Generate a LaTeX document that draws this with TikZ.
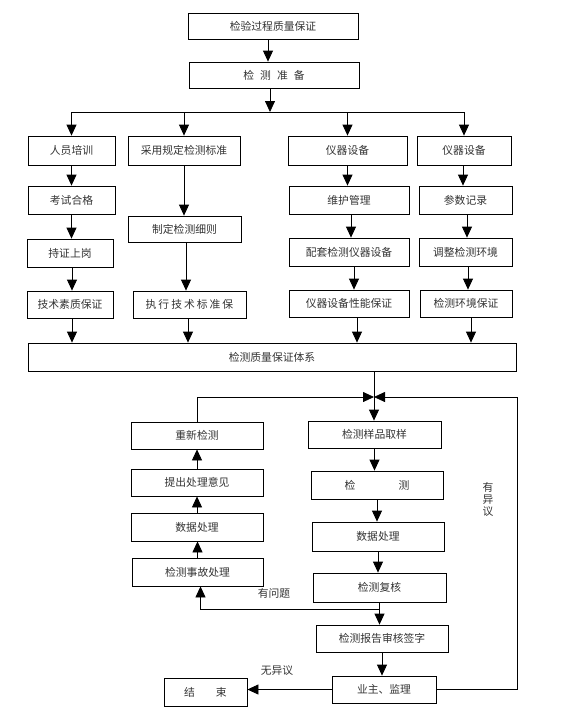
\documentclass[tikz,border=0pt]{standalone}
\usepackage{fontspec}
\setmainfont{Noto Sans CJK SC}
\usetikzlibrary{arrows.meta}

\tikzset{
  caixa/.style n args={2}{draw=black, line width=0.8pt, inner sep=0pt,
    text=black!80, minimum width=#1, minimum height=#2},
  rotulo/.style={text=black!80, inner sep=0pt, align=center},
}

\begin{document}
\begin{tikzpicture}[x=1pt, y=-1pt, >={Triangle[length=11pt,width=10pt]},
    line width=0.8pt, font=\fontsize{10.8}{12}\selectfont]
  \useasboundingbox (0,0) rectangle (575,716);

  % topo
  \node[caixa={170}{26}] (topo) at (273,26) {检验过程质量保证};
  \node[caixa={170}{26}] (prep) at (274,75) {检\hspace{6pt}测\hspace{6pt}准\hspace{6pt}备};
  \coordinate (ramo) at (270,112);

  % primeira linha
  \node[caixa={87}{29}] (pessoal) at (71.5,150.5) {人员培训};
  \node[caixa={112}{29}] (norma) at (184,150.5) {采用规定检测标准};
  \node[caixa={119}{29}] (equipA) at (347.5,150.5) {仪器设备};
  \node[caixa={94}{29}] (equipB) at (464,150.5) {仪器设备};

  % colunas
  \node[caixa={87}{28}] (exame) at (71.5,200) {考试合格};
  \node[caixa={86}{28}] (certif) at (70,253) {持证上岗};
  \node[caixa={86}{27}] (tecnica) at (70,304.5) {技术素质保证};
  \node[caixa={113}{26}] (regras) at (184.5,229) {制定检测细则};
  \node[caixa={113}{27}] (execucao) at (189.5,304.5)
    {执\hspace{2pt}行\hspace{2pt}技\hspace{2pt}术\hspace{2pt}标\hspace{2pt}准\hspace{2pt}保};
  \node[caixa={120}{28}] (manut) at (349,200) {维护管理};
  \node[caixa={120}{28}] (conjunto) at (349,252) {配套检测仪器设备};
  \node[caixa={120}{27}] (desemp) at (349,303.5) {仪器设备性能保证};
  \node[caixa={93}{28}] (param) at (465.5,200) {参数记录};
  \node[caixa={93}{28}] (ajuste) at (465.5,252) {调整检测环境};
  \node[caixa={92}{27}] (ambiente) at (466,303.5) {检测环境保证};
  \node[caixa={488}{28}] (sistema) at (272,357) {检测质量保证体系};

  % fluxo de baixo
  \node[caixa={132}{27}] (reteste) at (197,435.5) {重新检测};
  \node[caixa={132}{27}] (proposta) at (197,482.5) {提出处理意见};
  \node[caixa={132}{28}] (dados1) at (197,527) {数据处理};
  \node[caixa={131}{28}] (acidente) at (197.5,572) {检测事故处理};
  \node[caixa={133}{27}] (amostra) at (374.5,434.5) {检测样品取样};
  \node[caixa={132}{28}] (ensaio) at (377,485) {检\hspace{43pt}测};
  \node[caixa={132}{29}] (dados2) at (378,536.5) {数据处理};
  \node[caixa={133}{29}] (revisao) at (379.5,587.5) {检测复核};
  \node[caixa={132}{27}] (relatorio) at (382,638.5) {检测报告审核签字};
  \node[caixa={104}{27}] (cliente) at (384,689.5) {业主、监理};
  \node[caixa={83}{28}] (fim) at (205.5,692) {结\hspace{21pt}束};

  \node[rotulo] (problema) at (274,593) {有问题};
  \node[rotulo] (semobj) at (277,671) {无异议};
  \node[rotulo] (comobj) at (488,499) {有\\异\\议};

  \coordinate (juncao) at (374,397);
  \coordinate (retorno) at (517,397);
  \coordinate (desvio) at (380,609);

  % setas de cima
  \draw[->] ([xshift=-5]topo.south) -- ([xshift=-5]topo.south |- prep.north);
  \draw[->] (prep.south -| ramo) -- (ramo);
  \draw (pessoal.north |- ramo) -- (equipB.north |- ramo);
  \foreach \n in {pessoal,norma,equipA,equipB}
    \draw[->] (\n.north |- ramo) -- (\n.north);

  \foreach \a/\b/\s in {pessoal/exame/0, exame/certif/0, certif/tecnica/2,
      norma/regras/0, regras/execucao/1.5, equipA/manut/0, manut/conjunto/2,
      conjunto/desemp/5, equipB/param/-1, param/ajuste/1.5, ajuste/ambiente/2.5}
    \draw[->] ([xshift=\s]\a.south) -- ([xshift=\s]\a.south |- \b.north);

  \foreach \n/\s in {tecnica/2, execucao/-1.5, desemp/8, ambiente/5}
    \draw[->] ([xshift=\s]\n.south) -- ([xshift=\s]\n.south |- sistema.north);

  % laços de baixo
  \draw[->] (sistema.south -| juncao) -- (amostra.north -| juncao);
  \draw[->] (reteste.north) |- (juncao);
  \draw[->] (cliente.east) -| (retorno) -- (juncao);

  \foreach \a/\b in {acidente/dados1, dados1/proposta, proposta/reteste}
    \draw[->] (\a.north) -- (\a.north |- \b.south);
  \foreach \a/\b in {amostra/ensaio, ensaio/dados2, dados2/revisao,
      revisao/relatorio, relatorio/cliente}
    \draw[->] (\a.south) -- (\a.south |- \b.north);

  \draw[->] (revisao.south |- desvio) -| ([xshift=3]acidente.south);
  \draw[->] (cliente.west) -- (cliente.west -| fim.east);
\end{tikzpicture}
\end{document}
